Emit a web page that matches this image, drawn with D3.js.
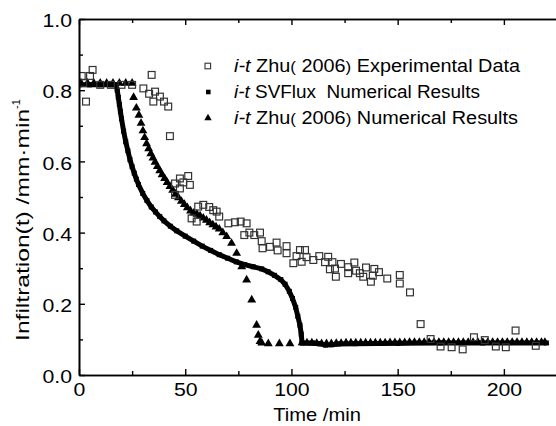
<!DOCTYPE html>
<html>
<head>
<meta charset="utf-8">
<script src="https://cdn.jsdelivr.net/npm/d3@7"></script>
<style>
  body { margin: 0; background: #fff; }
  svg { display: block; }
</style>
</head>
<body>
<svg width="556" height="426"></svg>
<script>
// experimental data (open squares)
const expTime = [1.3, 3.3, 5.2, 6.4, 2, 10, 15, 20, 25,
  30.3, 33, 34.2, 35, 35.8, 38.1, 40, 42, 42.8,
  45.2, 45.2, 47.5, 47.5, 49.1, 51.4, 52.2, 53, 55.4,
  56.1, 58.5, 61.3, 63.2, 64.8, 66, 70.3, 73.4, 76.1, 78.9,
  77.8, 80.2, 82.5, 85.2, 86, 86.4, 89.9, 93, 93.5, 97.7, 97.7,
  100.9, 102.4, 104, 104.8, 106.4, 107.1, 110.3, 113.1, 115.8, 117.3, 118.1, 119.3, 120.5, 120.9,
  123.3, 126.7, 126.7, 129.6, 130.4, 132.2, 133.8, 135.1, 137.4, 138.3, 139, 141.2, 145.1,
  151, 151, 155.8, 160.8, 165.5, 170.2, 175.4, 180.6, 185.9, 191, 196.2, 200.9, 205.5, 215];
const expInf = [0.84, 0.768, 0.84, 0.857, 0.82, 0.815, 0.815, 0.815, 0.815,
  0.805, 0.79, 0.843, 0.768, 0.796, 0.782, 0.768, 0.754, 0.671,
  0.506, 0.538, 0.524, 0.552, 0.541, 0.559, 0.534, 0.44, 0.431,
  0.473, 0.478, 0.472, 0.463, 0.459, 0.445, 0.426, 0.429, 0.431, 0.426,
  0.393, 0.40, 0.393, 0.40, 0.376, 0.356, 0.36, 0.372, 0.35, 0.362, 0.342,
  0.314, 0.334, 0.351, 0.318, 0.351, 0.331, 0.323, 0.334, 0.317, 0.332, 0.297, 0.317, 0.299, 0.276,
  0.312, 0.286, 0.303, 0.316, 0.293, 0.286, 0.276, 0.302, 0.262, 0.279, 0.298, 0.289, 0.271,
  0.281, 0.257, 0.232, 0.143, 0.101, 0.08, 0.078, 0.072, 0.106, 0.098, 0.08, 0.078, 0.125, 0.082];

// SVFlux numerical results (small filled squares)
const svTime = [0, 5, 10, 15, 17.5, 18, 18.5, 19, 19.5, 20, 21, 22, 23, 24, 25, 26, 27, 28, 30, 32,
  34, 36, 38, 40, 43, 46, 50, 54, 58, 62, 66, 70, 74, 78, 82, 86, 89, 92, 95, 97, 99,
  100.5, 102, 103, 104, 104.6, 105, 110, 113, 116, 119, 122, 130, 150, 170, 190, 220];
const svInf = [0.815, 0.815, 0.815, 0.815, 0.815, 0.80, 0.78, 0.76, 0.74, 0.72, 0.685, 0.655, 0.63, 0.605, 0.585, 0.567, 0.55, 0.535, 0.51, 0.49,
  0.472, 0.458, 0.445, 0.433, 0.418, 0.405, 0.39, 0.376, 0.362, 0.35, 0.338, 0.328, 0.318, 0.31, 0.304, 0.298, 0.29, 0.28, 0.268, 0.255, 0.235,
  0.215, 0.19, 0.165, 0.14, 0.115, 0.09, 0.09, 0.088, 0.084, 0.085, 0.087, 0.088, 0.089, 0.09, 0.09, 0.09];

// Zhu (2006) numerical results (triangles)
const zhuTime = [1, 4, 7, 10, 13, 16, 19, 22, 25,
  25.7, 27, 28.2, 29.2, 30.1, 30.9, 31.8, 32.8, 33.8, 34.8, 35.8, 36.9, 38, 39.1, 40.3, 41.5, 42.8,
  44.1, 45.4, 46.8, 48.2, 49.6, 51, 52.5, 54, 55.5, 57, 58.5, 60, 61.5, 63, 64.5, 66, 67.7, 69.5,
  71.8, 74.2, 76.6, 78.9, 81.3, 83.6, 84.4, 85.2, 86, 89.1, 94.3, 99.3,
  105, 107.3, 109.6, 111.9, 114.2, 116.5, 118.8, 121.1, 123.4, 125.7, 128, 130.3, 132.6, 134.9,
  137.2, 139.5, 141.8, 144.1, 146.4, 148.7, 151, 153.3, 155.6, 157.9, 160.2, 162.5, 164.8, 167.1,
  169.4, 171.7, 174, 176.3, 178.6, 180.9, 183.2, 185.5, 187.8, 190.1, 192.4, 194.7, 197, 199.3,
  201.6, 203.9, 206.2, 208.5, 210.8, 213.1, 215.4, 217.7, 219.3];
const zhuInf = [0.82, 0.82, 0.82, 0.82, 0.82, 0.82, 0.82, 0.82, 0.82,
  0.78, 0.75, 0.73, 0.707, 0.686, 0.667, 0.65, 0.636, 0.622, 0.61, 0.598, 0.586, 0.574, 0.563, 0.552, 0.541, 0.53,
  0.519, 0.508, 0.498, 0.488, 0.479, 0.47, 0.461, 0.455, 0.452, 0.447, 0.441, 0.435, 0.428, 0.422, 0.416, 0.41, 0.4, 0.389,
  0.37, 0.342, 0.304, 0.267, 0.211, 0.14, 0.112, 0.094, 0.09, 0.088, 0.088, 0.088,
  0.091, 0.09, 0.09, 0.089, 0.088, 0.088, 0.088, 0.089, 0.089, 0.09, 0.09, 0.09, 0.09, 0.09,
  0.09, 0.09, 0.09, 0.09, 0.091, 0.091, 0.091, 0.091, 0.092, 0.092, 0.092, 0.092, 0.092, 0.092,
  0.092, 0.092, 0.092, 0.092, 0.092, 0.092, 0.092, 0.092, 0.092, 0.092, 0.092, 0.092, 0.092, 0.092,
  0.092, 0.092, 0.092, 0.092, 0.092, 0.092, 0.092, 0.092, 0.092];

const xMajor = [0, 50, 100, 150, 200];
const xMinor = [25, 75, 125, 175, 225];
const yMajor = [0, 0.2, 0.4, 0.6, 0.8, 1.0];
const yMinor = [0.1, 0.3, 0.5, 0.7, 0.9];

// legend text, split so the brackets can be set smaller as in the source
const legendLabels = [
  ["Zhu", "(", " 2006", ")", " Experimental Data"],
  ["SVFlux\u00a0 Numerical Results"],
  ["Zhu", "(", " 2006", ")", " Numerical Results"]
];

const FONT = "'Liberation Sans', Arial, sans-serif";
const SX = 1.12; // the picture's text is a bit wide

const svg = d3.select("svg");
const W = 556, H = 426;

const x = d3.scaleLinear().domain([0, 225]).range([79, 557]);
const y = d3.scaleLinear().domain([0, 1]).range([375, 19]);

function stretch(sel, sx) {
  sel.each(function () {
    const t = d3.select(this);
    const x0 = +t.attr("x") || 0;
    t.attr("transform", `matrix(${sx},0,0,1,${x0 * (1 - sx)},0)`);
  });
}

svg.append("clipPath").attr("id", "clip")
  .append("rect").attr("x", 79).attr("y", 19).attr("width", W - 79).attr("height", 356);

const plot = svg.append("g").attr("clip-path", "url(#clip)");

// SVFlux: dense squares read as a thick curve
const sv = svTime.map((t, i) => [t, svInf[i]]);
plot.append("path")
  .datum(sv)
  .attr("fill", "none")
  .attr("stroke", "#000")
  .attr("stroke-width", 5)
  .attr("d", d3.line().x(d => x(d[0])).y(d => y(d[1])));
plot.selectAll("rect.sv").data(sv).enter().append("rect")
  .attr("class", "sv")
  .attr("x", d => x(d[0]) - 2.5).attr("y", d => y(d[1]) - 2.5)
  .attr("width", 5).attr("height", 5).attr("fill", "#000");

// Zhu numerical triangles
const tri = d3.symbol().type(d3.symbolTriangle).size(34);
plot.selectAll("path.zhu").data(zhuTime.map((t, i) => [t, zhuInf[i]])).enter().append("path")
  .attr("class", "zhu")
  .attr("transform", d => `translate(${x(d[0])},${y(d[1])})`)
  .attr("d", tri)
  .attr("fill", "#000");

// experimental open squares
plot.selectAll("rect.exp").data(expTime.map((t, i) => [t, expInf[i]])).enter().append("rect")
  .attr("class", "exp")
  .attr("x", d => x(d[0]) - 3.4).attr("y", d => y(d[1]) - 3.4)
  .attr("width", 6.8).attr("height", 6.8)
  .attr("fill", "none").attr("stroke", "#333").attr("stroke-width", 1.2);

// axes
function styleAxis(g) {
  g.attr("font-family", FONT).attr("font-size", 19);
  g.select(".domain").attr("stroke-width", 1.6);
  g.selectAll(".tick line").attr("stroke-width", 1.4);
  g.selectAll("text").attr("fill", "#000");
}

const gx = svg.append("g").attr("transform", `translate(0,${y(0)})`)
  .call(d3.axisBottom(x).tickValues(xMajor).tickSize(-6).tickSizeOuter(0).tickPadding(8).tickFormat(d3.format("d")))
  .call(styleAxis);
stretch(gx.selectAll("text"), SX);
svg.append("g").attr("transform", `translate(0,${y(0)})`)
  .call(d3.axisBottom(x).tickValues(xMinor).tickSize(-4).tickSizeOuter(0).tickFormat(""))
  .call(styleAxis);

svg.append("g").attr("transform", `translate(0,${y(1)})`)
  .call(d3.axisTop(x).tickValues(xMajor).tickSize(-6).tickSizeOuter(0).tickFormat(""))
  .call(styleAxis);
svg.append("g").attr("transform", `translate(0,${y(1)})`)
  .call(d3.axisTop(x).tickValues(xMinor).tickSize(-4).tickSizeOuter(0).tickFormat(""))
  .call(styleAxis);

const gy = svg.append("g").attr("transform", `translate(${x(0)},0)`)
  .call(d3.axisLeft(y).tickValues(yMajor).tickSize(-6).tickSizeOuter(0).tickPadding(7).tickFormat(d3.format(".1f")))
  .call(styleAxis);
gy.selectAll("text").attr("dy", "0.4em");
stretch(gy.selectAll("text"), SX);
svg.append("g").attr("transform", `translate(${x(0)},0)`)
  .call(d3.axisLeft(y).tickValues(yMinor).tickSize(-4).tickSizeOuter(0).tickFormat(""))
  .call(styleAxis);

// axis titles
const xt = svg.append("text")
  .attr("x", 317).attr("y", 421)
  .attr("text-anchor", "middle")
  .attr("font-family", FONT).attr("font-size", 18)
  .text("Time /min");
stretch(xt, SX);

const yt = svg.append("text")
  .attr("transform", "translate(29,220) rotate(-90)")
  .attr("text-anchor", "middle")
  .attr("font-family", FONT).attr("font-size", 19);
yt.append("tspan").attr("textLength", 232).attr("lengthAdjust", "spacingAndGlyphs").text("Infiltration(t) /mm·min");
yt.append("tspan").attr("font-size", 11).attr("dy", -9).text("-1");

// legend
const legendW = [286, 246, 284];
const leg = svg.append("g").attr("font-family", FONT).attr("font-size", 17.5);
legendLabels.forEach((parts, i) => {
  const cy = 66 + i * 26;
  if (i === 0) {
    leg.append("rect").attr("x", 205).attr("y", cy - 2.8).attr("width", 5.6).attr("height", 5.6)
      .attr("fill", "none").attr("stroke", "#333").attr("stroke-width", 1.1);
  } else if (i === 1) {
    leg.append("rect").attr("x", 206).attr("y", cy - 2.3).attr("width", 4.6).attr("height", 4.6).attr("fill", "#000");
  } else {
    leg.append("path").attr("transform", `translate(208,${cy})`)
      .attr("d", d3.symbol().type(d3.symbolTriangle).size(24)).attr("fill", "#000");
  }
  const t = leg.append("text").attr("x", 234).attr("y", cy + 6)
    .attr("textLength", legendW[i]).attr("lengthAdjust", "spacingAndGlyphs");
  t.append("tspan").attr("font-style", "italic").text("i-t ");
  parts.forEach(p => {
    const s = t.append("tspan").text(p);
    if (p === "(" || p === ")") s.attr("font-size", 15);
  });
});
</script>
</body>
</html>
